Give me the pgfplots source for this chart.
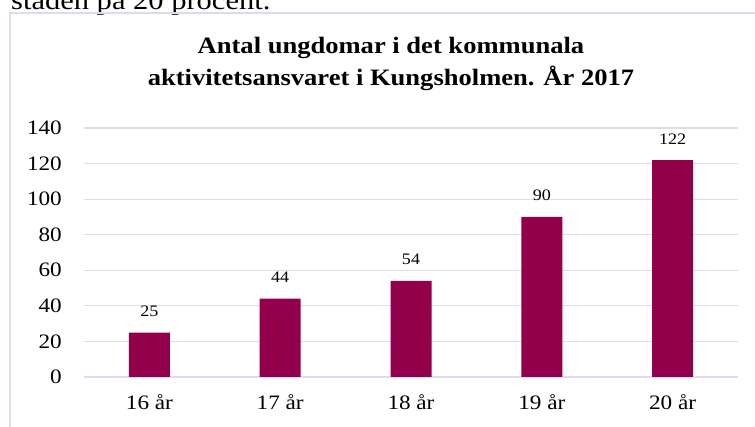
\documentclass[border=0pt]{standalone}
\usepackage{pgfplots}
\pgfplotsset{compat=1.18}
\usepackage{fontspec}
\setmainfont{Liberation Serif}[FakeStretch=1.13]
\definecolor{barc}{RGB}{146,0,76}
\definecolor{gridc}{RGB}{226,216,240}
\begin{document}
\begin{tikzpicture}[x=1pt,y=1pt]
\clip (0,0) rectangle (755,427);
\path[use as bounding box] (0,0) rectangle (755,427);
% partially visible text above the chart
\node[anchor=base west, inner sep=0pt, font=\fontsize{27}{32}\selectfont] at (11,417) {staden på 20 procent.};
% chart frame
\draw[gridc, line width=1.2pt] (10,414) rectangle (790,-20);
% title
\node[align=center, font=\fontsize{23.5}{32}\selectfont\bfseries] at (391,363) {Antal ungdomar i det kommunala\\aktivitetsansvaret i Kungsholmen. År 2017};
\begin{axis}[
  at={(84pt,50pt)}, anchor=south west,
  scale only axis, width=654pt, height=249pt,
  xmin=-0.5, xmax=4.5, ymin=0, ymax=140,
  ytick={0,20,...,140},
  xtick={0,1,2,3,4},
  xticklabels={16 år,17 år,18 år,19 år,20 år},
  axis line style={draw=none},
  major tick length=0pt,
  ymajorgrids, grid style={gridc, line width=1.2pt},
  /pgf/number format/assume math mode=true,
  tick label style={font=\fontsize{20.5}{24}\selectfont},
  xticklabel style={anchor=base, inner sep=0pt, yshift=-33pt},
  yticklabel style={anchor=east, inner sep=0pt, xshift=-22pt},
  clip=false,
]
\addplot[ybar, bar width=41pt, fill=barc, draw=none,
  nodes near coords,
  every node near coord/.append style={anchor=base, inner sep=0pt, yshift=16pt, font=\fontsize{16}{19}\selectfont, text=black}]
  coordinates {(0,25) (1,44) (2,54) (3,90) (4,122)};
\end{axis}
\end{tikzpicture}
\end{document}
